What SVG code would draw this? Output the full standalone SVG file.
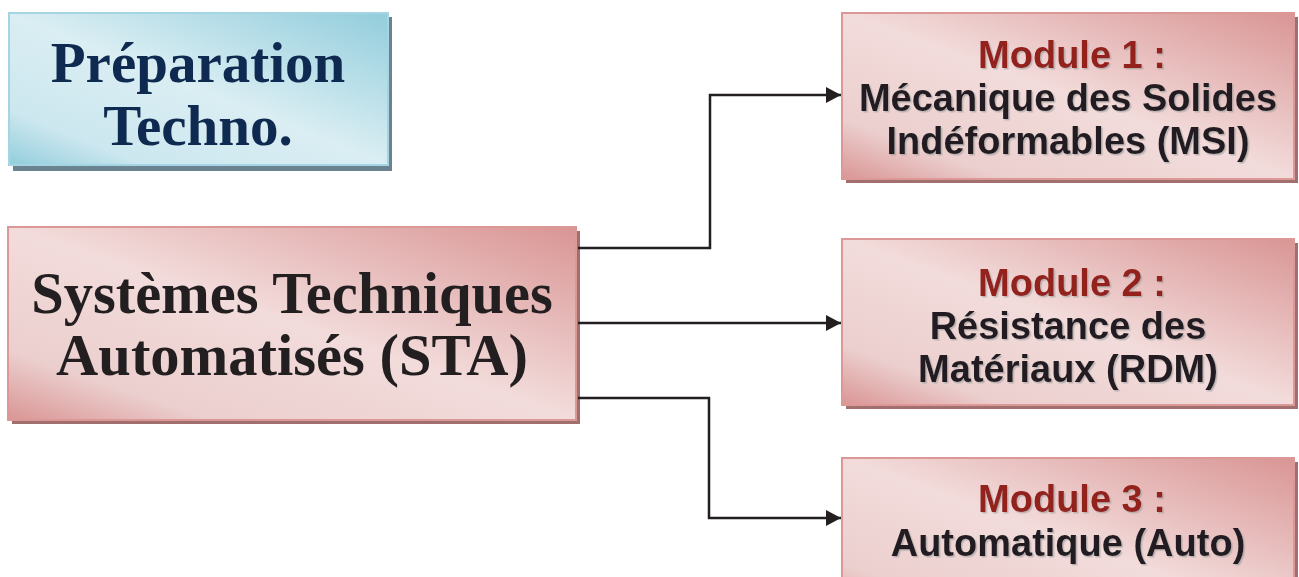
<svg xmlns="http://www.w3.org/2000/svg" width="1299" height="577" viewBox="0 0 1299 577">
<defs>
<linearGradient id="gPink" x1="1" y1="0" x2="0" y2="1">
<stop offset="0" stop-color="#d99594"/>
<stop offset="0.5" stop-color="#f2dcdb"/>
<stop offset="0.82" stop-color="#ebcfce"/>
<stop offset="1" stop-color="#d99594"/>
</linearGradient>
<linearGradient id="gBlue" x1="1" y1="0" x2="0" y2="1">
<stop offset="0" stop-color="#92cddc"/>
<stop offset="0.5" stop-color="#daeef3"/>
<stop offset="0.82" stop-color="#cce7ef"/>
<stop offset="1" stop-color="#92cddc"/>
</linearGradient>
<marker id="arr" markerWidth="16" markerHeight="18" refX="15" refY="8" orient="auto" markerUnits="userSpaceOnUse">
<path d="M0,0 L15,8 L0,16 Z" fill="#231f20"/>
</marker>
<filter id="ts" x="-5%" y="-20%" width="110%" height="140%">
<feDropShadow dx="1.5" dy="1.5" stdDeviation="0.6" flood-color="#9a9a9a" flood-opacity="0.6"/>
</filter>
</defs>
<style>
.pink{fill:url(#gPink);stroke:#db9897;stroke-width:2}
.pshadow{fill:#a06f6e}
.blue{fill:url(#gBlue);stroke:#a5d5e2;stroke-width:2}
.bshadow{fill:#6b8391}
.serif{font-family:"Liberation Serif","Times New Roman",serif;font-weight:bold;text-anchor:middle}
.sans{font-family:"Liberation Sans",Arial,sans-serif;font-weight:bold;text-anchor:middle;font-size:38px;filter:url(#ts)}
.mod{fill:#93201f}
.body{fill:#231f20}
.conn{fill:none;stroke:#231f20;stroke-width:2.5}
</style>

<g id="prep">
<rect class="bshadow" x="13" y="17" width="379" height="154"/>
<rect class="blue" x="9" y="13" width="379" height="152"/>
<text class="serif" x="198" y="82" font-size="57" fill="#0f2a50">Préparation</text>
<text class="serif" x="198" y="145" font-size="57" fill="#0f2a50">Techno.</text>
</g>

<g id="sta">
<rect class="pshadow" x="12" y="231" width="568" height="193"/>
<rect class="pink" x="8" y="227" width="568" height="193"/>
<text class="serif body" x="292" y="313" font-size="58.5">Systèmes Techniques</text>
<text class="serif body" x="292" y="375" font-size="58.5">Automatisés (STA)</text>
</g>

<g id="module1">
<rect class="pshadow" x="846" y="17" width="452" height="166"/>
<rect class="pink" x="842" y="13" width="452" height="166"/>
<text class="sans mod" x="1072" y="68">Module 1 :</text>
<text class="sans body" x="1068" y="111">Mécanique des Solides</text>
<text class="sans body" x="1068" y="154">Indéformables (MSI)</text>
</g>

<g id="module2">
<rect class="pshadow" x="846" y="243" width="452" height="166"/>
<rect class="pink" x="842" y="239" width="452" height="166"/>
<text class="sans mod" x="1072" y="296">Module 2 :</text>
<text class="sans body" x="1068" y="339">Résistance des</text>
<text class="sans body" x="1068" y="382">Matériaux (RDM)</text>
</g>

<g id="module3">
<rect class="pshadow" x="846" y="462" width="452" height="166"/>
<rect class="pink" x="842" y="458" width="452" height="166"/>
<text class="sans mod" x="1072" y="512">Module 3 :</text>
<text class="sans body" x="1068" y="556">Automatique (Auto)</text>
</g>

<g id="connectors">
<path class="conn" d="M578,248 H710 V95 H841" marker-end="url(#arr)"/>
<path class="conn" d="M578,323 H841" marker-end="url(#arr)"/>
<path class="conn" d="M578,398 H709 V518 H841" marker-end="url(#arr)"/>
</g>
</svg>
